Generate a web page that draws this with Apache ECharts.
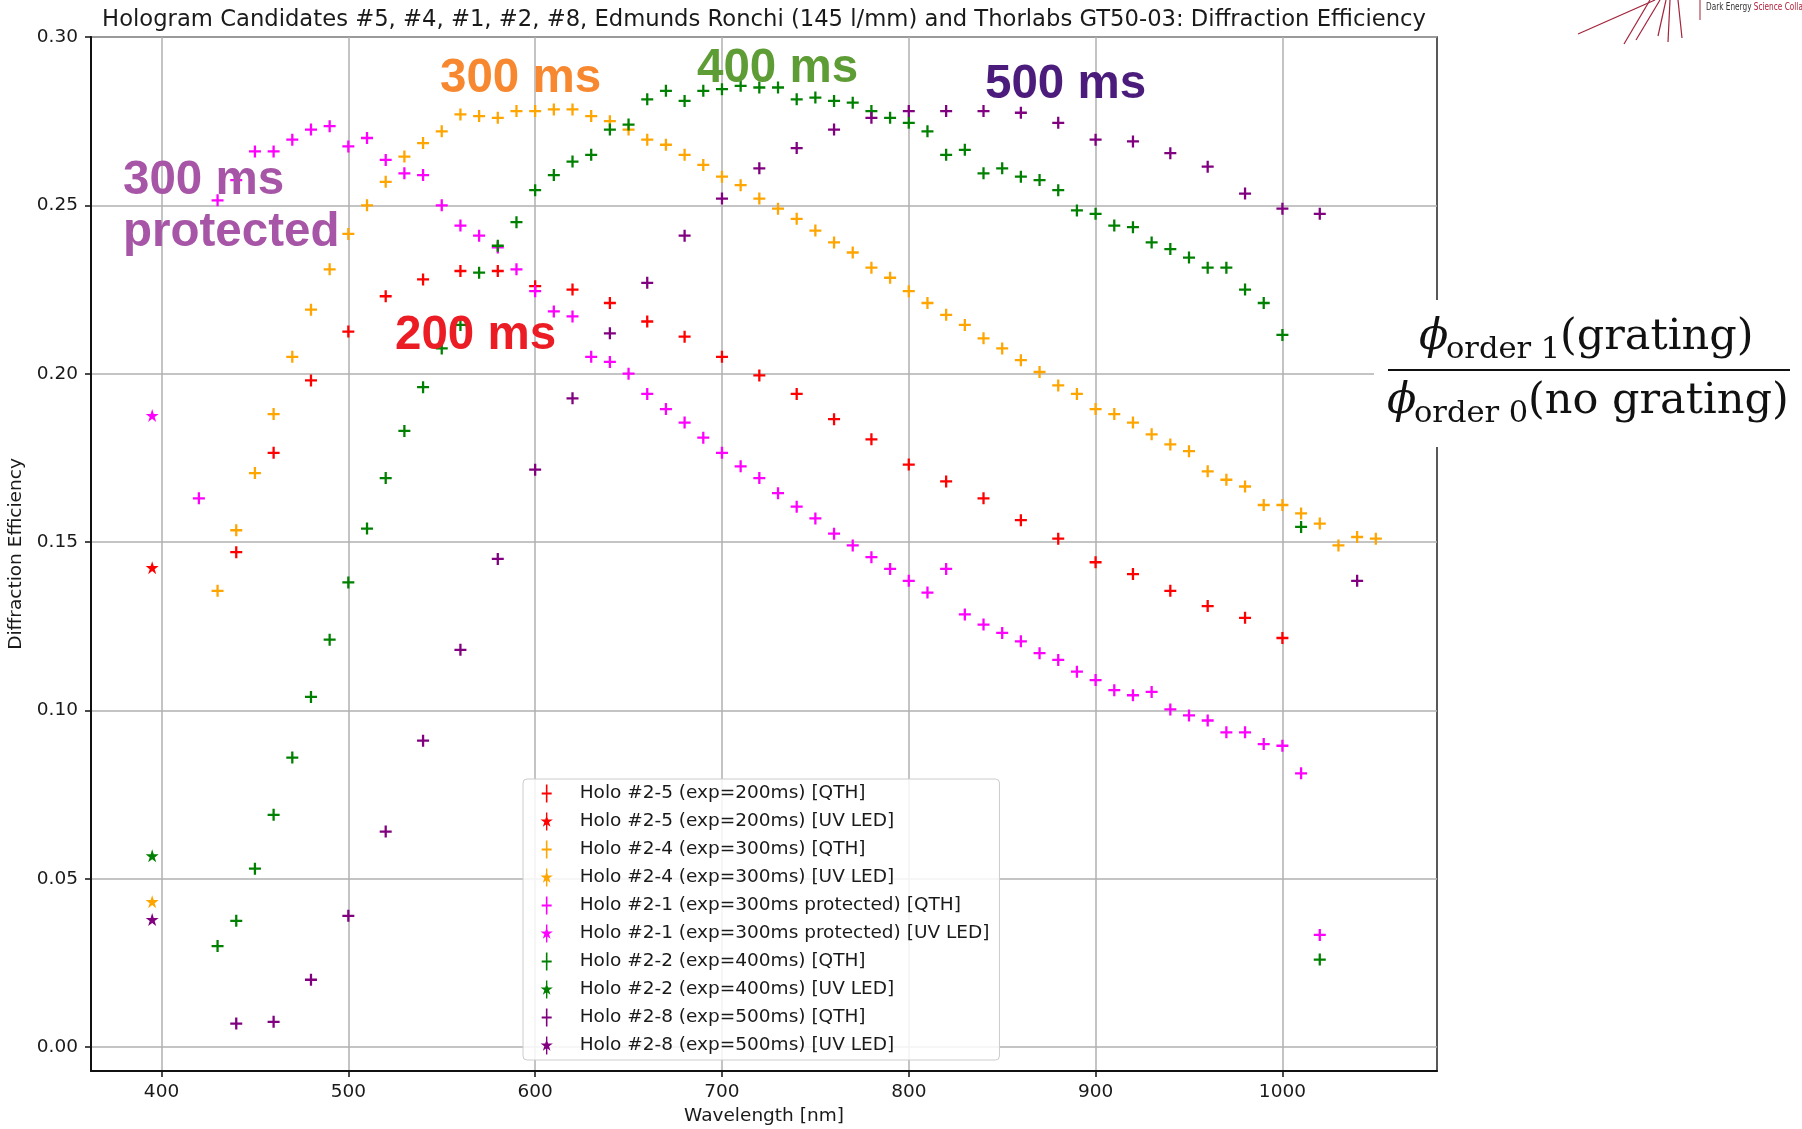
<!DOCTYPE html>
<html lang="en">
<head>
    <meta charset="UTF-8">
    <title>Diffraction Efficiency</title>
    <script src="https://cdn.jsdelivr.net/npm/echarts@6/dist/echarts.min.js"></script>
    <style>
        *{ margin: 0; padding: 0; }
        body{ background-color: #fff; overflow: hidden; }
        #main{ width: 1802px; height: 1129px; }
    </style>
</head>
<body>
<div id="main"></div>
<script>
    // wavelengths [nm] and diffraction efficiencies
    var redQthWl  = [440,460,480,500,520,540,560,580,600,620,640,660,680,700,720,740,760,780,800,820,840,860,880,900,920,940,960,980,1000];
    var redQthEff = [0.147,0.1765,0.198,0.2125,0.223,0.228,0.2305,0.2305,0.226,0.225,0.221,0.2155,0.211,0.205,0.1995,0.194,0.1865,0.1805,0.173,0.168,0.163,0.1565,0.151,0.144,0.1405,0.1355,0.131,0.1275,0.1215];
    var redUvWl  = [395];
    var redUvEff = [0.1424];

    var orangeQthWl  = [430,440,450,460,470,480,490,500,510,520,530,540,550,560,570,580,590,600,610,620,630,640,650,660,670,680,690,700,710,720,730,740,750,760,770,780,790,800,810,820,830,840,850,860,870,880,890,900,910,920,930,940,950,960,970,980,990,1000,1010,1020,1030,1040,1050];
    var orangeQthEff = [0.1355,0.1535,0.1705,0.188,0.205,0.219,0.231,0.2415,0.250,0.257,0.2645,0.2685,0.272,0.277,0.2765,0.276,0.278,0.278,0.2785,0.2785,0.2765,0.275,0.2725,0.2695,0.268,0.265,0.262,0.2585,0.256,0.252,0.249,0.246,0.2425,0.239,0.236,0.2315,0.2285,0.2245,0.221,0.2175,0.2145,0.2105,0.2075,0.204,0.2005,0.1965,0.194,0.1895,0.188,0.1855,0.182,0.179,0.177,0.171,0.1685,0.1665,0.161,0.161,0.1585,0.1555,0.149,0.1515,0.151];
    var orangeUvWl  = [395];
    var orangeUvEff = [0.0432];

    var magentaQthWl  = [420,430,440,450,460,470,480,490,500,510,520,530,540,550,560,570,580,590,600,610,620,630,640,650,660,670,680,690,700,710,720,730,740,750,760,770,780,790,800,810,820,830,840,850,860,870,880,890,900,910,920,930,940,950,960,970,980,990,1000,1010,1020];
    var magentaQthEff = [0.163,0.2515,0.2575,0.266,0.266,0.2695,0.2725,0.2735,0.2675,0.270,0.2635,0.2595,0.259,0.250,0.244,0.241,0.2375,0.231,0.2245,0.2185,0.217,0.205,0.2035,0.200,0.194,0.1895,0.1855,0.181,0.1765,0.1725,0.169,0.1645,0.1605,0.157,0.1525,0.149,0.1455,0.142,0.1385,0.135,0.142,0.1285,0.1255,0.123,0.1205,0.117,0.115,0.1115,0.109,0.106,0.1045,0.1055,0.1003,0.0985,0.097,0.0935,0.0935,0.090,0.0895,0.0813,0.0333];
    var magentaUvWl  = [395];
    var magentaUvEff = [0.1876];

    var greenQthWl  = [430,440,450,460,470,480,490,500,510,520,530,540,550,560,570,580,590,600,610,620,630,640,650,660,670,680,690,700,710,720,730,740,750,760,770,780,790,800,810,820,830,840,850,860,870,880,890,900,910,920,930,940,950,960,970,980,990,1000,1010,1020];
    var greenQthEff = [0.030,0.0375,0.053,0.069,0.086,0.104,0.121,0.138,0.154,0.169,0.183,0.196,0.2075,0.2145,0.230,0.238,0.245,0.2545,0.259,0.263,0.265,0.2725,0.274,0.2815,0.284,0.281,0.284,0.2845,0.2855,0.285,0.285,0.2815,0.282,0.281,0.2805,0.278,0.276,0.2745,0.272,0.265,0.2665,0.2595,0.261,0.2585,0.2575,0.2545,0.2485,0.2475,0.244,0.2435,0.239,0.237,0.2345,0.2315,0.2315,0.225,0.221,0.2115,0.1545,0.026];
    var greenUvWl  = [395];
    var greenUvEff = [0.0568];

    var purpleQthWl  = [440,460,480,500,520,540,560,580,600,620,640,660,680,700,720,740,760,780,800,820,840,860,880,900,920,940,960,980,1000,1020,1040];
    var purpleQthEff = [0.007,0.0075,0.020,0.039,0.064,0.091,0.118,0.145,0.1715,0.1927,0.212,0.227,0.241,0.252,0.261,0.267,0.2725,0.276,0.278,0.278,0.278,0.2775,0.2745,0.2695,0.269,0.2655,0.2615,0.2535,0.249,0.2475,0.1385];
    var purpleUvWl  = [395];
    var purpleUvEff = [0.0379];

    var seriesNames = [
        'Holo #2-5 (exp=200ms) [QTH]',
        'Holo #2-5 (exp=200ms) [UV LED]',
        'Holo #2-4 (exp=300ms) [QTH]',
        'Holo #2-4 (exp=300ms) [UV LED]',
        'Holo #2-1 (exp=300ms protected) [QTH]',
        'Holo #2-1 (exp=300ms protected) [UV LED]',
        'Holo #2-2 (exp=400ms) [QTH]',
        'Holo #2-2 (exp=400ms) [UV LED]',
        'Holo #2-8 (exp=500ms) [QTH]',
        'Holo #2-8 (exp=500ms) [UV LED]'
    ];
    var seriesColors = ['#ff0000','#ff0000','#ffa500','#ffa500','#ff00ff','#ff00ff','#008000','#008000','#800080','#800080'];
    var seriesData = [
        [redQthWl, redQthEff], [redUvWl, redUvEff],
        [orangeQthWl, orangeQthEff], [orangeUvWl, orangeUvEff],
        [magentaQthWl, magentaQthEff], [magentaUvWl, magentaUvEff],
        [greenQthWl, greenQthEff], [greenUvWl, greenUvEff],
        [purpleQthWl, purpleQthEff], [purpleUvWl, purpleUvEff]
    ];

    var xTicks = [400,500,600,700,800,900,1000];
    var yTicks = [0.00,0.05,0.10,0.15,0.20,0.25,0.30];

    // marker shapes (matplotlib '+' and '*', and errorbar-like legend icons)
    var plusPath = 'path://M0,4.05h10v1.9h-10zM4.05,0h1.9v10h-1.9z';
    var starPath = 'path://M5,0L6.12,3.45L9.76,3.45L6.82,5.59L7.94,9.05L5,6.91L2.06,9.05L3.18,5.59L0.24,3.45L3.88,3.45Z';
    var plusIcon = 'path://M5.7,0h1.6v18h-1.6zM1.5,8.1h10v1.8h-10z';
    var starIcon = 'path://M5.8,0h1.4v18h-1.4zM6.5,2.5L7.96,6.99L12.68,6.99L8.86,9.77L10.32,14.26L6.5,11.48L2.68,14.26L4.14,9.77L0.32,6.99L5.04,6.99Z';

    function zip(xs, ys) {
        var out = [];
        for (var i = 0; i < xs.length; i++) out.push([xs[i], ys[i]]);
        return out;
    }

    var series = [];
    var legendData = [];
    for (var i = 0; i < seriesNames.length; i++) {
        var isUv = (i % 2 === 1);
        series.push({
            name: seriesNames[i],
            type: 'scatter',
            symbol: isUv ? starPath : plusPath,
            symbolSize: isUv ? 13 : 12,
            itemStyle: { color: seriesColors[i], opacity: 1 },
            emphasis: { disabled: true },
            data: zip(seriesData[i][0], seriesData[i][1])
        });
        legendData.push({ name: seriesNames[i], icon: isUv ? starIcon : plusIcon });
    }

    var font = 'DejaVu Sans';
    var annoFont = 'Liberation Sans';
    var serif = 'DejaVu Serif';

    var myChart = echarts.init(document.getElementById('main'), null, { renderer: 'canvas' });

    var option = {
        backgroundColor: '#ffffff',
        animation: false,
        grid: {
            left: 91, right: 365, top: 37, bottom: 58,
            show: true,
            borderColor: '#222',
            borderWidth: 1.5,
            backgroundColor: 'transparent',
            containLabel: false,
            outerBoundsMode: 'none'
        },
        legend: {
            orient: 'vertical',
            left: 523,
            top: 779,
            padding: [5, 10, 5, 17.5],
            itemWidth: 13,
            itemHeight: 18,
            itemGap: 9,
            backgroundColor: 'rgba(255,255,255,0.85)',
            borderColor: '#cccccc',
            borderWidth: 1,
            borderRadius: 4,
            selectedMode: false,
            textStyle: { fontFamily: font, fontSize: 18.5, color: '#1a1a1a', padding: [0, 0, 0, 21.5] },
            data: legendData
        },
        xAxis: {
            type: 'value',
            min: 362.25,
            max: 1082.75,
            splitNumber: 7,
            name: 'Wavelength [nm]',
            nameLocation: 'middle',
            nameGap: 36,
            nameTextStyle: { fontFamily: font, fontSize: 18.5, color: '#1a1a1a' },
            axisLine: { show: true, onZero: false, lineStyle: { color: '#111', width: 2 } },
            axisTick: { show: true, inside: false, length: 6, customValues: xTicks, lineStyle: { color: '#111', width: 1.5 } },
            axisLabel: {
                margin: 12,
                customValues: xTicks,
                fontFamily: font, fontSize: 18.5, color: '#1a1a1a',
                formatter: function (v) { return String(Math.round(v)); }
            },
            splitLine: { show: true, lineStyle: { color: '#b0b0b0', width: 1.5 } }
        },
        yAxis: {
            type: 'value',
            min: -0.0071,
            max: 0.30,
            splitNumber: 6,
            name: 'Diffraction Efficiency',
            nameLocation: 'middle',
            nameRotate: 90,
            nameGap: 64,
            nameTextStyle: { fontFamily: font, fontSize: 18.5, color: '#1a1a1a' },
            axisLine: { show: true, onZero: false, lineStyle: { color: '#111', width: 2 } },
            axisTick: { show: true, inside: false, length: 6, customValues: yTicks, lineStyle: { color: '#111', width: 1.5 } },
            axisLabel: {
                margin: 13,
                customValues: yTicks,
                fontFamily: font, fontSize: 18.5, color: '#1a1a1a',
                formatter: function (v) { return v.toFixed(2); }
            },
            splitLine: { show: true, lineStyle: { color: '#b0b0b0', width: 1.5 } }
        },
        graphic: [
            // title
            { type: 'text', x: 764, y: 20, z: 100, style: {
                text: 'Hologram Candidates #5, #4, #1, #2, #8, Edmunds Ronchi (145 l/mm) and Thorlabs GT50-03: Diffraction Efficiency',
                fontFamily: font, fontSize: 22.7, fill: '#1a1a1a', textAlign: 'center', textVerticalAlign: 'middle' } },

            // exposure annotations
            { type: 'text', x: 440, y: 79, z: 100, style: { text: '300 ms', fontFamily: annoFont, fontWeight: 'bold', fontSize: 47.5, fill: '#f7882f', textVerticalAlign: 'middle' } },
            { type: 'text', x: 697, y: 69, z: 100, style: { text: '400 ms', fontFamily: annoFont, fontWeight: 'bold', fontSize: 47.5, fill: '#5e9c35', textVerticalAlign: 'middle' } },
            { type: 'text', x: 985, y: 85, z: 100, style: { text: '500 ms', fontFamily: annoFont, fontWeight: 'bold', fontSize: 47.5, fill: '#4b1c7b', textVerticalAlign: 'middle' } },
            { type: 'text', x: 123, y: 181, z: 100, style: { text: '300 ms', fontFamily: annoFont, fontWeight: 'bold', fontSize: 47.5, fill: '#a755a6', textVerticalAlign: 'middle' } },
            { type: 'text', x: 123, y: 233, z: 100, style: { text: 'protected', fontFamily: annoFont, fontWeight: 'bold', fontSize: 47.5, fill: '#a755a6', textVerticalAlign: 'middle' } },
            { type: 'text', x: 395, y: 336, z: 100, style: { text: '200 ms', fontFamily: annoFont, fontWeight: 'bold', fontSize: 47.5, fill: '#ec1c24', textVerticalAlign: 'middle' } },

            // efficiency formula on a white patch
            { type: 'rect', z: 90, shape: { x: 1374, y: 300, width: 428, height: 147 }, style: { fill: '#ffffff' } },
            { type: 'line', z: 100, shape: { x1: 1388, y1: 370, x2: 1790, y2: 370 }, style: { stroke: '#111', lineWidth: 2 } },
            { type: 'text', x: 1419, y: 338, z: 100, style: { text: 'ϕ', fontFamily: serif, fontStyle: 'italic', fontSize: 43, fill: '#111', textVerticalAlign: 'middle' } },
            { type: 'text', x: 1446, y: 350, z: 100, style: { text: 'order 1', fontFamily: serif, fontSize: 30.5, fill: '#111', textVerticalAlign: 'middle' } },
            { type: 'text', x: 1560, y: 338, z: 100, style: { text: '(grating)', fontFamily: serif, fontSize: 43, fill: '#111', textVerticalAlign: 'middle' } },
            { type: 'text', x: 1387, y: 402, z: 100, style: { text: 'ϕ', fontFamily: serif, fontStyle: 'italic', fontSize: 43, fill: '#111', textVerticalAlign: 'middle' } },
            { type: 'text', x: 1414, y: 414, z: 100, style: { text: 'order 0', fontFamily: serif, fontSize: 30.5, fill: '#111', textVerticalAlign: 'middle' } },
            { type: 'text', x: 1528, y: 402, z: 100, style: { text: '(no grating)', fontFamily: serif, fontSize: 43, fill: '#111', textVerticalAlign: 'middle' } },

            // cropped collaboration logo, top right
            { type: 'line', z: 100, shape: { x1: 1578, y1: 34, x2: 1655, y2: 0 }, style: { stroke: '#a3243b', lineWidth: 1.2 } },
            { type: 'line', z: 100, shape: { x1: 1624, y1: 44, x2: 1650, y2: 0 }, style: { stroke: '#a3243b', lineWidth: 1.2 } },
            { type: 'line', z: 100, shape: { x1: 1636, y1: 40, x2: 1660, y2: 0 }, style: { stroke: '#a3243b', lineWidth: 1.2 } },
            { type: 'line', z: 100, shape: { x1: 1658, y1: 36, x2: 1666, y2: 0 }, style: { stroke: '#a3243b', lineWidth: 1.2 } },
            { type: 'line', z: 100, shape: { x1: 1668, y1: 42, x2: 1670, y2: 0 }, style: { stroke: '#a3243b', lineWidth: 1.2 } },
            { type: 'line', z: 100, shape: { x1: 1682, y1: 38, x2: 1678, y2: 0 }, style: { stroke: '#a3243b', lineWidth: 1.2 } },
            { type: 'line', z: 100, shape: { x1: 1700, y1: 0, x2: 1700, y2: 20 }, style: { stroke: '#a3243b', lineWidth: 1 } },
            { type: 'text', x: 1706, y: 7, z: 100, scaleX: 0.7, style: {
                text: '{a|Dark Energy }{b|Science Collaboration}', fontFamily: font, fontSize: 10.5, textVerticalAlign: 'middle',
                rich: { a: { fill: '#333', fontSize: 10.5, fontFamily: font }, b: { fill: '#b0203a', fontSize: 10.5, fontFamily: font } } } }
        ],
        series: series
    };

    myChart.setOption(option);
    window.onresize = myChart.resize;
</script>
</body>
</html>
